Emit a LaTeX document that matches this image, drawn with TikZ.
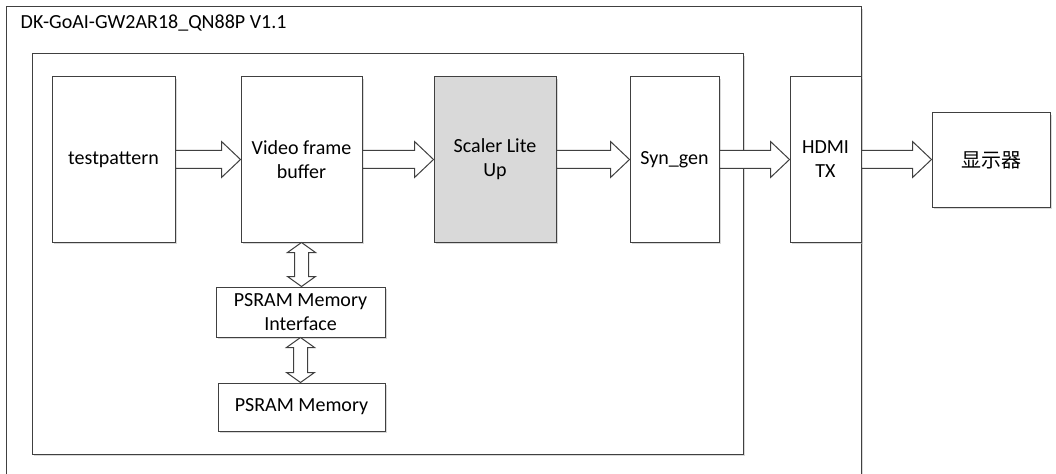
\documentclass[tikz,border=0pt]{standalone}
\usepackage{fontspec}
\setmainfont{Carlito}
\newfontfamily\cjk{Noto Sans CJK SC}
\usetikzlibrary{calc,shadows}
\definecolor{linecol}{HTML}{404040}
\definecolor{scalerfill}{HTML}{D9D9D9}
\newcommand\harrow[2]{\draw[arr] let \p1=(#1.east), \p2=(#2.west) in
  (\x1,\y1+6.75pt) -- (\x2-14.25pt,\y1+6.75pt) -- (\x2-14.25pt,\y1+13.5pt) -- (\x2,\y1)
  -- (\x2-14.25pt,\y1-13.5pt) -- (\x2-14.25pt,\y1-6.75pt) -- (\x1,\y1-6.75pt) -- cycle;}
\newcommand\varrow[2]{\draw[arr] let \p1=(#1.south), \p2=(#2.north) in
  (\x1,\y1) -- (\x1+10.5pt,\y1-7.5pt) -- (\x1+5.25pt,\y1-7.5pt) -- (\x1+5.25pt,\y2+7.5pt)
  -- (\x1+10.5pt,\y2+7.5pt) -- (\x1,\y2) -- (\x1-10.5pt,\y2+7.5pt) -- (\x1-5.25pt,\y2+7.5pt)
  -- (\x1-5.25pt,\y1-7.5pt) -- (\x1-10.5pt,\y1-7.5pt) -- cycle;}
\begin{document}
\begin{tikzpicture}[x=0.75pt,y=-0.75pt,
  shad/.style={drop shadow={shadow xshift=1.2pt,shadow yshift=-1.2pt,fill=black!25,opacity=0.6}},
  box/.style={draw=linecol,line width=0.75pt,fill=white,inner sep=0pt,align=center,
    font=\fontsize{15}{18}\selectfont,shad},
  arr/.style={draw=linecol,line width=0.75pt,fill=white,line join=miter}]
\useasboundingbox (0,0) rectangle (1056,474);
\node[box,minimum width=855*0.75pt,minimum height=483*0.75pt] (outer) at (433.5,248.5) {};
\node[anchor=base west,font=\fontsize{15}{18}\selectfont] (title) at (16,29) {DK-GoAI-GW2AR18\_QN88P V1.1};
\node[box,minimum width=711*0.75pt,minimum height=400*0.75pt] (inner) at (387.5,254) {};
\node[box,minimum width=123*0.75pt,minimum height=165*0.75pt] (tp) at (113.5,159.5) {testpattern};
\node[box,minimum width=121*0.75pt,minimum height=165*0.75pt] (vfb) at (301.5,159.5) {Video frame\\buffer};
\node[box,minimum width=122*0.75pt,minimum height=165*0.75pt,fill=scalerfill] (scaler) at (495,159.5) {Scaler Lite\\Up};
\node[box,minimum width=89*0.75pt,minimum height=165*0.75pt] (syn) at (674.5,159.5) {Syn\_gen};
\node[box,minimum width=71*0.75pt,minimum height=165*0.75pt] (hdmi) at (825.5,159.5) {HDMI\\TX};
\node[box,minimum width=118*0.75pt,minimum height=94*0.75pt] (disp) at (991,160) {\cjk 显示器};
\node[box,minimum width=169*0.75pt,minimum height=50*0.75pt] (psif) at (300.5,312) {PSRAM Memory\\Interface};
\node[box,minimum width=167*0.75pt,minimum height=48*0.75pt] (psm) at (301.5,407) {PSRAM Memory};
\harrow{tp}{vfb}
\harrow{vfb}{scaler}
\harrow{scaler}{syn}
\harrow{syn}{hdmi}
\harrow{hdmi}{disp}
\varrow{vfb}{psif}
\varrow{psif}{psm}
\end{tikzpicture}
\end{document}
